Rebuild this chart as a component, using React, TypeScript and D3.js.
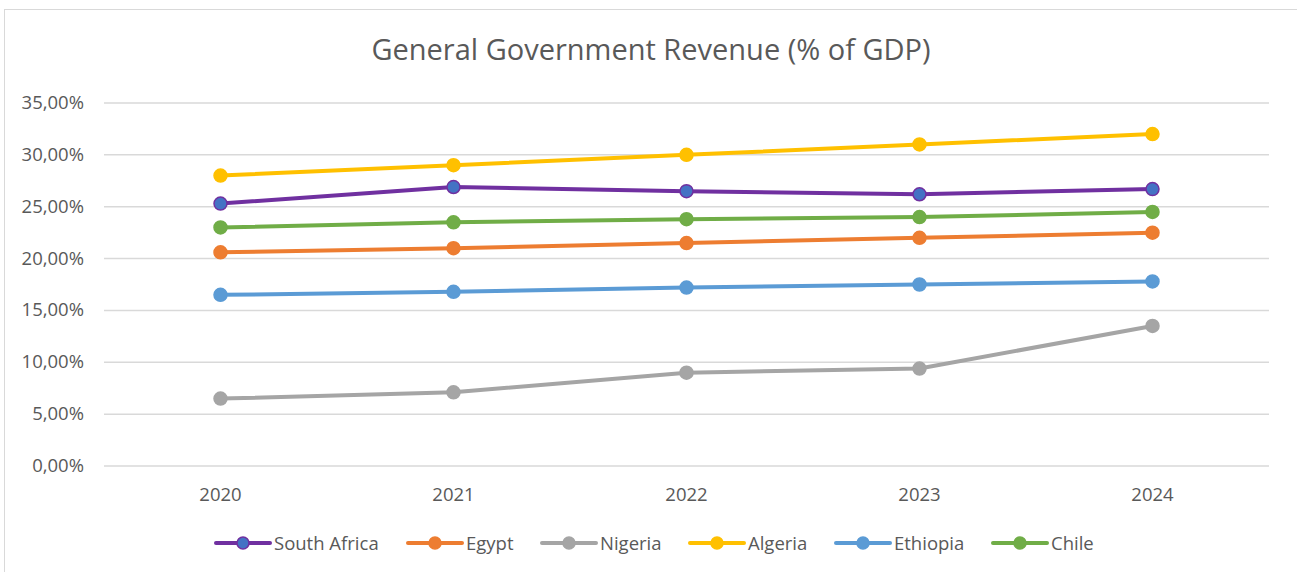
import React from "react";
import * as d3 from "d3";

const years = ["2020", "2021", "2022", "2023", "2024"];
const southAfrica = [25.3, 26.9, 26.5, 26.2, 26.7];
const egypt = [20.6, 21.0, 21.5, 22.0, 22.5];
const nigeria = [6.5, 7.1, 9.0, 9.4, 13.5];
const algeria = [28.0, 29.0, 30.0, 31.0, 32.0];
const ethiopia = [16.5, 16.8, 17.2, 17.5, 17.8];
const chile = [23.0, 23.5, 23.8, 24.0, 24.5];
const yTicks = [0, 5, 10, 15, 20, 25, 30, 35];

const series = [
  { name: "South Africa", values: southAfrica, color: "#7030A0", fill: "#4472C4" },
  { name: "Egypt", values: egypt, color: "#ED7D31", fill: "#ED7D31" },
  { name: "Nigeria", values: nigeria, color: "#A5A5A5", fill: "#A5A5A5" },
  { name: "Algeria", values: algeria, color: "#FFC000", fill: "#FFC000" },
  { name: "Ethiopia", values: ethiopia, color: "#5B9BD5", fill: "#5B9BD5" },
  { name: "Chile", values: chile, color: "#70AD47", fill: "#70AD47" },
];
const legendX = [216, 408, 542, 690, 836, 993];

export default function App() {
  const W = 1297, H = 572;
  const left = 104, right = 1269, top = 103, bottom = 466;
  const x = d3.scaleBand().domain(years).range([left, right]);
  const y = d3.scaleLinear().domain([0, 35]).range([bottom, top]);
  const line = d3
    .line<number>()
    .x((_, i) => (x(years[i]) as number) + x.bandwidth() / 2)
    .y((d) => y(d));
  const font = "'Open Sans', sans-serif";
  const fmt = (v: number) => v.toFixed(2).replace(".", ",") + "%";
  return (
    <svg
      width={W}
      height={H}
      style={{ position: "absolute", left: 0, top: 0, fontFamily: font }}
    >
      <rect x={0} y={0} width={W} height={H} fill="#fff" />
      <rect x={4.5} y={9.5} width={W + 10} height={H + 10} fill="#fff" stroke="#d9d9d9" strokeWidth={1} />
      <text x={651} y={60} textAnchor="middle" fontSize={29} fill="#595959">
        General Government Revenue (% of GDP)
      </text>
      {yTicks.map((t) => (
        <g key={t}>
          <line x1={left} x2={right} y1={y(t)} y2={y(t)} stroke="#d9d9d9" strokeWidth={1.5} />
          <text x={84} y={y(t) + 6} textAnchor="end" fontSize={18.5} fill="#595959">
            {fmt(t)}
          </text>
        </g>
      ))}
      {years.map((yr) => (
        <text
          key={yr}
          x={(x(yr) as number) + x.bandwidth() / 2}
          y={501}
          textAnchor="middle"
          fontSize={18.5}
          fill="#595959"
        >
          {yr}
        </text>
      ))}
      {series.map((s) => (
        <g key={s.name}>
          <path d={line(s.values) || ""} fill="none" stroke={s.color} strokeWidth={4} strokeLinejoin="round" />
          {s.values.map((v, i) => (
            <circle
              key={i}
              cx={(x(years[i]) as number) + x.bandwidth() / 2}
              cy={y(v)}
              r={6.5}
              fill={s.fill}
              stroke={s.color}
              strokeWidth={1.5}
            />
          ))}
        </g>
      ))}
      {series.map((s, i) => (
        <g key={s.name} transform={`translate(${legendX[i]},543)`}>
          <line x1={0} x2={54} y1={0} y2={0} stroke={s.color} strokeWidth={4} strokeLinecap="round" />
          <circle cx={27} cy={0} r={6} fill={s.fill} stroke={s.color} strokeWidth={1.5} />
          <text x={58} y={6.5} fontSize={18.5} fill="#595959">
            {s.name}
          </text>
        </g>
      ))}
    </svg>
  );
}
